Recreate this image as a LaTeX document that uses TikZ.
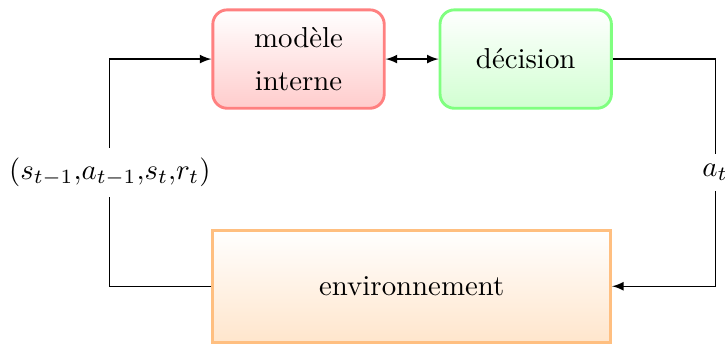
\documentclass[tikz,border=0pt]{standalone}
\usepackage[utf8]{inputenc}
\usetikzlibrary{arrows,shapes}

\tikzset{
  boite/.style={draw, line width=1pt, minimum width=2.09cm, minimum height=1.2cm, align=center, rounded corners=5pt},
  lien/.style={-latex, thin}
}

\begin{document}
\begin{tikzpicture}
				\useasboundingbox (0, 0) rectangle (8.84, -4.23);

\node[boite, draw=red!50, top color=white, bottom color=red!20] (modele) at (3.64, -0.72) {modèle\\[3pt]interne};
\node[boite, draw=green!50, top color=white, bottom color=green!18] (decision) at (6.41, -0.72) {décision};
\node[boite, rounded corners=0pt, draw=orange!50, top color=white, bottom color=orange!20, minimum width=4.85cm, minimum height=1.37cm] (env) at (5.02, -3.49) {environnement};

\node (obs) at (1.34, -2.1) {$(s_{t-1}{,}a_{t-1}{,}s_t{,}r_t)$};
\node (act) at (8.72, -2.1) {$a_t$};

\draw[latex-latex, thin] (modele) -- (decision);

\draw[thin] (env.west) -| (obs.south);
\draw[lien] (obs.north) |- (modele.west);

\draw[thin] (decision.east) -| (act.north);
\draw[lien] (act.south) |- (env.east);
			\end{tikzpicture}
\end{document}
